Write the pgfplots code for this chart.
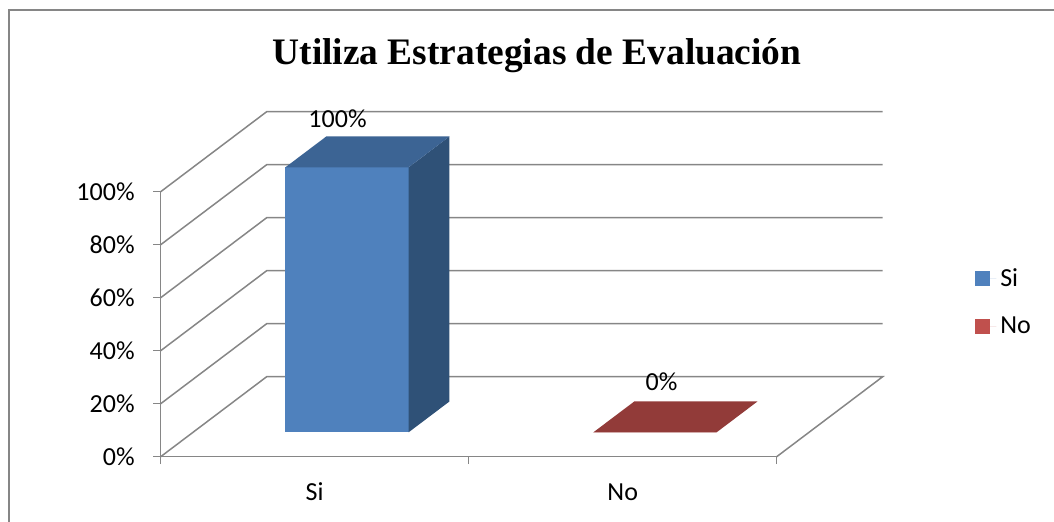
\documentclass[border=0pt]{standalone}
\usepackage{fontspec}
\setmainfont{Carlito}
\newfontfamily\titlefont{Liberation Serif}
\usepackage{pgfplots}
\pgfplotsset{compat=1.18}

\definecolor{gridgray}{HTML}{868686}
\definecolor{frontblue}{HTML}{4F81BD}
\definecolor{topblue}{HTML}{3C6494}
\definecolor{sideblue}{HTML}{2F5177}
\definecolor{frontred}{HTML}{C0504D}
\definecolor{topred}{HTML}{923B39}

% oblique depth: a full unit of depth goes 106px right and 80px up
\def\dx{0.3442}
\def\dy{30.19}

\begin{document}
\begin{tikzpicture}
\useasboundingbox (-80.35pt,-32.65pt) rectangle (446.65pt,228.35pt);
\draw[gridgray, line width=0.6pt] (-75.85pt,-40pt) -- (-75.85pt,223.35pt) -- (460pt,223.35pt);
\begin{axis}[
    at={(0pt,0pt)}, anchor=south west,
    scale only axis, width=308pt, height=132.5pt,
    xmin=-0.5, xmax=1.5, ymin=0, ymax=100,
    clip=false,
    axis lines*=left,
    axis line style={draw=gridgray, line width=0.75pt},
    tick style={draw=gridgray, line width=0.75pt},
    tick align=outside, major tick length=3.75pt,
    xtick={-0.5,0.5,1.5}, x tick label as interval,
    xticklabels={Si,No},
    ytick={0,20,40,60,80,100},
    yticklabels={0\%,20\%,40\%,60\%,80\%,100\%},
    ticklabel style={font=\fontsize{13}{15}\selectfont, inner sep=0pt},
    xticklabel style={anchor=base, yshift=-18.25pt},
    yticklabel style={anchor=east, xshift=-9.1pt},
    title={Utiliza Estrategias de Evaluación},
    title style={at={(0.611,1.4328)}, anchor=base, inner sep=0pt, yshift=0pt,
        font=\titlefont\bfseries\fontsize{18.7}{21}\selectfont},
    legend style={draw=none, fill=none, at={(1.312,0.582)}, anchor=west,
        font=\fontsize{13}{15}\selectfont, row sep=10pt},
    legend cell align=left,
    legend image post style={xshift=-16.17pt, yshift=-12.2pt},
]
% walls and floor
\draw[gridgray, line width=0.75pt] (axis cs:-0.5,0) -- (axis cs:-0.1558,30.19) -- (axis cs:1.8442,30.19) -- (axis cs:1.5,0);
\draw[gridgray, line width=0.75pt] (axis cs:-0.5,20) -- (axis cs:-0.1558,50.19) -- (axis cs:1.8442,50.19);
\draw[gridgray, line width=0.75pt] (axis cs:-0.5,40) -- (axis cs:-0.1558,70.19) -- (axis cs:1.8442,70.19);
\draw[gridgray, line width=0.75pt] (axis cs:-0.5,60) -- (axis cs:-0.1558,90.19) -- (axis cs:1.8442,90.19);
\draw[gridgray, line width=0.75pt] (axis cs:-0.5,80) -- (axis cs:-0.1558,110.19) -- (axis cs:1.8442,110.19);
\draw[gridgray, line width=0.75pt] (axis cs:-0.5,100) -- (axis cs:-0.1558,130.19) -- (axis cs:1.8442,130.19);

% front faces (bars sit 0.305 deep)
\addplot[ybar, bar width=0.4, bar shift=0pt, fill=frontblue, draw=none,
    xshift=16.17pt, yshift=12.2pt,
    nodes near coords={\pgfmathprintnumber[assume math mode=true]{\pgfplotspointmeta}\%},
    every node near coord/.append style={anchor=base, inner sep=0pt, xshift=-4.75pt, yshift=19.85pt,
        font=\fontsize{13}{15}\selectfont, text=black},
    legend image code/.code={\fill[frontblue] (0pt,-3.75pt) rectangle (7.5pt,3.75pt); \path (0pt,0pt) -- (10.5pt,0pt);}]
    coordinates {(0,100)};
\addlegendentry{Si}
\addplot[ybar, bar width=0.4, bar shift=0pt, fill=frontred, draw=none,
    xshift=16.17pt, yshift=12.2pt,
    nodes near coords={\pgfmathprintnumber[assume math mode=true]{\pgfplotspointmeta}\%},
    every node near coord/.append style={anchor=base, inner sep=0pt, xshift=3.25pt, yshift=20.65pt,
        font=\fontsize{13}{15}\selectfont, text=black},
    legend image code/.code={\fill[frontred] (0pt,-3.75pt) rectangle (7.5pt,3.75pt); \path (0pt,0pt) -- (10.5pt,0pt);}]
    coordinates {(1,0)};
\addlegendentry{No}

% side and top faces
\addplot[fill=sideblue, draw=none, forget plot]
    table[x expr=\thisrow{cx}+\dx*\thisrow{d}, y expr=\thisrow{v}+\dy*\thisrow{d}] {
cx   d     v
0.2  0.305 0
0.2  0.69  0
0.2  0.69  100
0.2  0.305 100
};
\addplot[fill=topblue, draw=none, forget plot]
    table[x expr=\thisrow{cx}+\dx*\thisrow{d}, y expr=\thisrow{v}+\dy*\thisrow{d}] {
cx   d     v
-0.2 0.305 100
0.2  0.305 100
0.2  0.69  100
-0.2 0.69  100
};
\addplot[fill=topred, draw=none, forget plot]
    table[x expr=\thisrow{cx}+\dx*\thisrow{d}, y expr=\thisrow{v}+\dy*\thisrow{d}] {
cx   d     v
0.8  0.305 0
1.2  0.305 0
1.2  0.69  0
0.8  0.69  0
};
\end{axis}
\end{tikzpicture}
\end{document}
